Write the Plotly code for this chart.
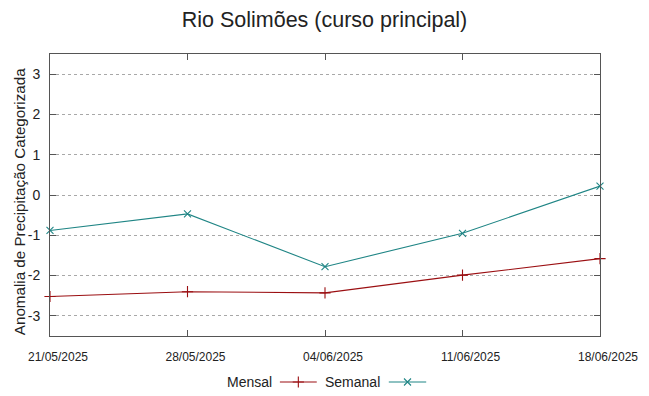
import plotly.graph_objects as go

dates = ["2025-05-21", "2025-05-28", "2025-06-04", "2025-06-11", "2025-06-18"]
date_labels = ["21/05/2025", "28/05/2025", "04/06/2025", "11/06/2025", "18/06/2025"]
mensal = [-2.52, -2.40, -2.43, -1.99, -1.58]
semanal = [-0.88, -0.47, -1.78, -0.95, 0.22]
y_ticks = [-3, -2, -1, 0, 1, 2, 3]

RED = "#9b0f12"
TEAL = "#1f8585"
FONT = "Liberation Sans, Arial, sans-serif"
TXT = "#222222"

# Layout geometry (px)
W, H = 649, 396
ML, MR, MT, MB = 50, 49, 54, 10
plot_h = H - MT - MB
main_bottom_frac = (H - MB - 336) / plot_h
leg_top_frac = 0.06
leg_y = (H - MB - 382) / (plot_h * leg_top_frac)

fig = go.Figure()
fig.add_trace(go.Scatter(x=dates, y=mensal, mode="lines+markers", name="Mensal",
                         line=dict(color=RED, width=1.1),
                         marker=dict(symbol="cross-thin-open", size=8, color=RED,
                                     line=dict(color=RED, width=1.1)),
                         showlegend=False, cliponaxis=False))
fig.add_trace(go.Scatter(x=dates, y=semanal, mode="lines+markers", name="Semanal",
                         line=dict(color=TEAL, width=1.1),
                         marker=dict(symbol="x-thin-open", size=7, color=TEAL,
                                     line=dict(color=TEAL, width=1.1)),
                         showlegend=False, cliponaxis=False))

# custom legend (text before sample, gnuplot style) on a hidden overlay axis
leg_sym = [("Mensal", RED, "cross-thin-open", 8, 0.408, 0.418, 0.485),
           ("Semanal", TEAL, "x-thin-open", 7, 0.603, 0.616, 0.684)]
annotations = []
for name, col, sym, sz, tx, x0, x1 in leg_sym:
    fig.add_trace(go.Scatter(x=[x0, x1], y=[leg_y, leg_y], xaxis="x2", yaxis="y2", mode="lines",
                             line=dict(color=col, width=1.1), showlegend=False, hoverinfo="skip"))
    fig.add_trace(go.Scatter(x=[(x0 + x1) / 2], y=[leg_y], xaxis="x2", yaxis="y2", mode="markers",
                             marker=dict(symbol=sym, size=sz, color=col, line=dict(color=col, width=1.1)),
                             showlegend=False, hoverinfo="skip", cliponaxis=False))
    annotations.append(dict(text=name, xref="x2", yref="y2", x=tx, y=leg_y, xanchor="right",
                            yanchor="middle", showarrow=False,
                            font=dict(size=14, family=FONT, color=TXT)))

# y-axis title as a rotated annotation (gnuplot-like placement)
annotations.append(dict(text="Anomalia de Precipitação Categorizada", xref="paper", yref="paper",
                        x=(19.5 - ML) / (W - ML - MR), y=(H - MB - 201.7) / plot_h,
                        xanchor="center", yanchor="middle", textangle=-90, showarrow=False,
                        font=dict(size=15.2, family=FONT, color=TXT)))

fig.update_layout(
    width=W, height=H,
    margin=dict(l=ML, r=MR, t=MT, b=MB, autoexpand=False),
    paper_bgcolor="white", plot_bgcolor="white",
    font=dict(family=FONT, color=TXT),
    title=dict(text="Rio Solimões (curso principal)", x=0.5, xanchor="center", yref="container",
               y=1 - 19 / H, yanchor="middle", automargin=False,
               font=dict(size=21.5, family=FONT, color=TXT)),
    xaxis=dict(type="date", range=[dates[0], dates[-1]], tickvals=dates, ticktext=date_labels,
               showgrid=False, zeroline=False, showline=True, linecolor="#555555", linewidth=1,
               mirror="allticks", ticks="inside", ticklen=6, tickcolor="#555555", automargin=False,
               tickfont=dict(size=12, family=FONT, color=TXT), ticklabelstandoff=10,
               ticklabelshift=8),
    yaxis=dict(domain=[main_bottom_frac, 1], range=[-3.5, 3.5], tickvals=y_ticks,
               ticktext=[str(v) for v in y_ticks], showgrid=True, automargin=False,
               gridcolor="#a8a8a8", griddash="dot", gridwidth=1, zeroline=False, showline=True,
               linecolor="#555555", linewidth=1, mirror="allticks", ticks="inside", ticklen=6,
               tickcolor="#555555", tickfont=dict(size=14, family=FONT, color=TXT),
               ticklabelstandoff=6),
    xaxis2=dict(domain=[0, 1], range=[0, 1], visible=False, anchor="y2", fixedrange=True),
    yaxis2=dict(domain=[0, leg_top_frac], range=[0, 1], visible=False, anchor="x2", fixedrange=True),
    annotations=annotations,
)
fig.write_html("out.html", config={"displayModeBar": False},
               post_script="document.body.style.margin='0';")
